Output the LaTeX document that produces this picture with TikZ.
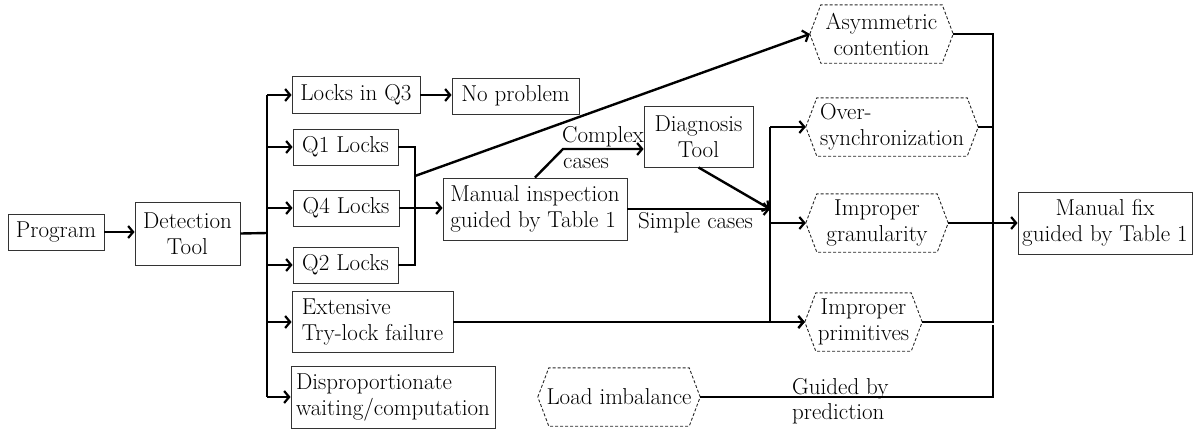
\documentclass[tikz,border=0pt]{standalone}
\usetikzlibrary{arrows.meta,calc}
\newcommand\myfs{\rmfamily\fontsize{23}{26}\selectfont}
\begin{document}
\begin{tikzpicture}[x=1pt,y=-1pt,
  box/.style={draw=black!80, line width=0.9pt, inner sep=0pt, align=center, font=\myfs},
  hexbox/.style={draw=none, inner sep=0pt, align=center, font=\myfs, minimum height=58},
  hexline/.style={draw=black!85, line width=0.9pt, dash pattern=on 3pt off 2pt},
  conn/.style={line width=2.4pt},
  arr/.style={line width=2.4pt, -{Straight Barb[length=5pt,width=12pt,line width=2.2pt]}},
  lbl/.style={inner sep=0pt, font=\myfs}]
\useasboundingbox (0,0) rectangle (1193,429);

% boxes
\node[box, minimum width=96, minimum height=36] (prog) at (56,232) {Program};
\node[box, minimum width=105, minimum height=63] (det) at (187.5,233.5) {Detection\\Tool};
\node[box, minimum width=128, minimum height=37] (lq3) at (356,95) {Locks in Q3};
\node[box, minimum width=127, minimum height=36] (noprob) at (515.5,96) {No problem};
\node[box, minimum width=105, minimum height=36] (q1) at (345.5,147) {Q1 Locks};
\node[box, minimum width=106, minimum height=36] (q4) at (346,208) {Q4 Locks};
\node[box, minimum width=105, minimum height=36] (q2) at (345.5,265) {Q2 Locks};
\node[box, align=left, minimum width=161, minimum height=61] (ext) at (372.5,322) {Extensive\\Try-lock failure};
\node[box, align=left, minimum width=204, minimum height=62] (disp) at (393,397) {Disproportionate\\waiting/computation};
\node[box, align=left, minimum width=184, minimum height=62] (manual) at (535,209) {Manual inspection\\guided by Table 1};
\node[box, minimum width=109, minimum height=61] (diag) at (698.5,136.5) {Diagnosis\\Tool};
\node[box, minimum width=174, minimum height=62] (fix) at (1105,223) {Manual fix\\guided by Table 1};

% hexagons
\node[hexbox, minimum width=143] (asym) at (881.5,34) {Asymmetric\\contention};
\node[hexbox, align=left, minimum width=172] (over) at (892,127) {Over-\\synchronization};
\node[hexbox, minimum width=142] (gran) at (877,223) {Improper\\granularity};
\node[hexbox, minimum width=117] (prim) at (863.5,322) {Improper\\primitives};
\node[hexbox, minimum width=162] (load) at (619,397) {Load imbalance};
\foreach \n in {asym,over,gran,prim,load}
  \draw[hexline] (\n.west) -- ([xshift=11pt]\n.north west) -- ([xshift=-11pt]\n.north east)
    -- (\n.east) -- ([xshift=-11pt]\n.south east) -- ([xshift=11pt]\n.south west) -- cycle;

% labels
\node[lbl, anchor=base west] (lcx) at (562,142) {Complex};
\node[lbl, anchor=base west] (lcs) at (563,168) {cases};
\node[lbl, anchor=base west] (lsimple) at (638,228) {Simple cases};
\node[lbl, anchor=base west] (lg1) at (792,394) {Guided by};
\node[lbl, anchor=base west] (lg2) at (792,419) {prediction};

% coordinates
\coordinate (trunk) at (267,233);
\coordinate (mx) at (415,0);
\coordinate (asymstart) at (415,176);
\coordinate (cbend) at (563,149);
\coordinate (mg) at (770,0);
\coordinate (rc) at (993,0);

% connectors
\draw[arr] (prog.east) -- (prog.east -| det.west);
\draw[conn] (det.east) -- (trunk);
\draw[conn] (lq3.west -| trunk) -- (disp.west -| trunk);
\foreach \n in {lq3,q1,q4,q2,ext,disp}
  \draw[arr] (\n.west -| trunk) -- (\n.west);
\draw[arr] (lq3.east) -- (lq3.east -| noprob.west);
\draw[conn] (q1.east) -- (q1.east -| mx) -- (q2.east -| mx) -- (q2.east);
\draw[arr] (q4.east) -- (q4.east -| manual.west);
\draw[arr] (asymstart) -- (asym.west);
\draw[arr] (manual.north) -- (cbend) -- (cbend -| diag.west);
\draw[arr] (manual.east) -- (manual.east -| mg);
\draw[arr] (diag.south) -- (manual.east -| mg);
\draw[conn] (over.west -| mg) -- (prim.west -| mg);
\foreach \n in {over,gran,prim}
  \draw[arr] (\n.west -| mg) -- (\n.west);
\draw[arr] (ext.east) -- (ext.east -| prim.west);
\draw[conn] (asym.east) -- (asym.east -| rc) -- (prim.east -| rc) -- (prim.east);
\draw[conn] (over.east) -- (over.east -| rc);
\draw[arr] (gran.east) -- (fix.west);
\draw[conn] (load.east) -- (load.east -| rc) -- ($(prim.east -| rc)+(0,3)$);
\end{tikzpicture}
\end{document}
